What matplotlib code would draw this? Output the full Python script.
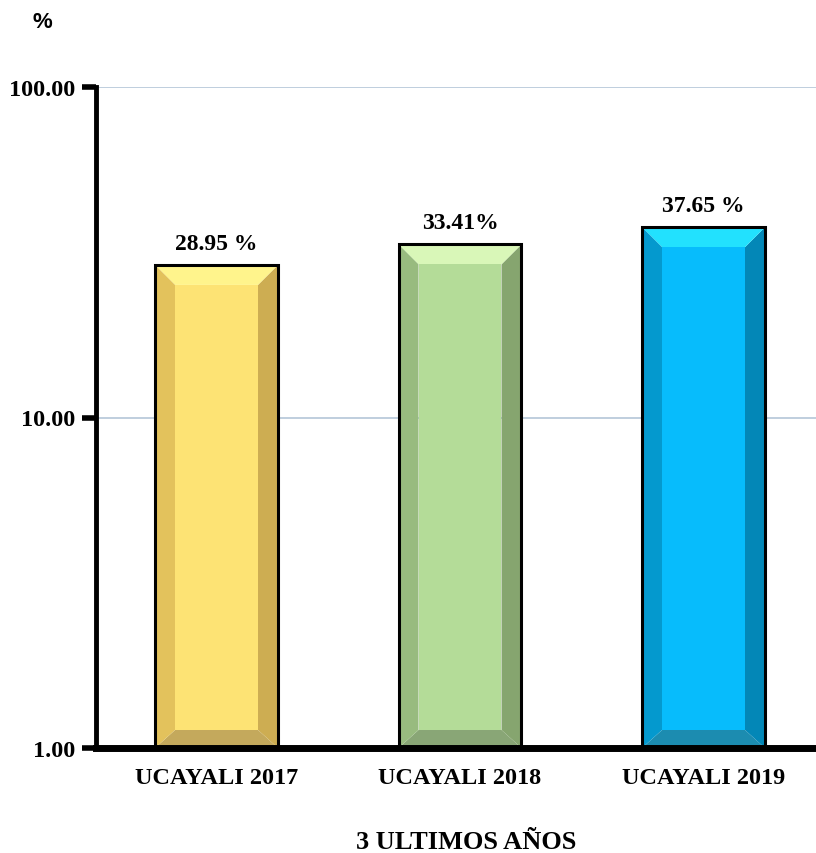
import matplotlib
matplotlib.use("Agg")
import matplotlib.pyplot as plt
from matplotlib.patches import Polygon
import numpy as np

categories = ["UCAYALI 2017", "UCAYALI 2018", "UCAYALI 2019"]
values = [28.95, 33.41, 37.65]
value_labels = ["28.95 %", "33.41%", "37.65 %"]
y_ticks = [1, 10, 100]
y_tick_labels = ["1.00", "10.00", "100.00"]
x_title = "3 ULTIMOS AÑOS"
y_unit = "%"

# face colours per bar: centre, top, left, right, bottom bevel
palettes = [
    dict(centre="#FDE374", top="#FFF48C", left="#E3C25C", right="#CDAD52", bottom="#C4A95C"),
    dict(centre="#B4DC98", top="#D9F7B8", left="#98BB7F", right="#86A56F", bottom="#89A676"),
    dict(centre="#07BCFC", top="#22E1FE", left="#0499CE", right="#0387B7", bottom="#1C8CB0"),
]

W, H, DPI = 816, 854, 100
fig = plt.figure(figsize=(W / DPI, H / DPI), dpi=DPI)
ax = fig.add_axes([96 / W, 105 / H, 1 - 96 / W, (749 - 88) / H])

serif = "Liberation Serif"
ax.set_yscale("log")
ax.set_ylim(1, 100)
ax.set_xlim(-0.495, 2.462)
ax.set_yticks(y_ticks)
ax.set_yticklabels(y_tick_labels, fontfamily=serif, fontweight="bold", fontsize=17.5)
ax.yaxis.set_minor_locator(matplotlib.ticker.NullLocator())
ax.set_xticks(range(len(categories)))
ax.set_xticklabels(categories, fontfamily=serif, fontweight="bold", fontsize=17.5)
ax.tick_params(axis="x", length=0, pad=14)
ax.tick_params(axis="y", length=10, width=4, pad=5, direction="out")
for t in ax.yaxis.get_ticklines():
    t.set_solid_capstyle("round")

for s in ("top", "right"):
    ax.spines[s].set_visible(False)
ax.spines["left"].set_linewidth(3.5)
ax.spines["bottom"].set_linewidth(5)
ax.spines["left"].set_zorder(6)
ax.spines["bottom"].set_zorder(6)

ax.grid(axis="y", which="major", color="#B4C6D8", linewidth=1.2)
ax.set_axisbelow(True)

bar_w = 0.505
bevel_px = 20
bottom_px = 18
to_disp = ax.transData
to_data = ax.transData.inverted()

for i, (v, pal) in enumerate(zip(values, palettes)):
    x0, x1 = i - bar_w / 2, i + bar_w / 2
    (X0, Y0), (X1, Y1) = to_disp.transform([(x0, 1), (x1, v)])
    outer = np.array([(X0, Y0), (X1, Y0), (X1, Y1), (X0, Y1)])
    inner = np.array([
        (X0 + bevel_px, Y0 + bottom_px),
        (X1 - bevel_px, Y0 + bottom_px),
        (X1 - bevel_px, Y1 - bevel_px),
        (X0 + bevel_px, Y1 - bevel_px),
    ])
    od = to_data.transform(outer)
    idd = to_data.transform(inner)
    faces = [
        ([od[0], od[1], idd[1], idd[0]], pal["bottom"]),
        ([od[1], od[2], idd[2], idd[1]], pal["right"]),
        ([od[2], od[3], idd[3], idd[2]], pal["top"]),
        ([od[3], od[0], idd[0], idd[3]], pal["left"]),
        (list(idd), pal["centre"]),
    ]
    for pts, col in faces:
        ax.add_patch(Polygon(pts, closed=True, facecolor=col, edgecolor="none", zorder=3))
    ax.add_patch(Polygon(od, closed=True, facecolor="none", edgecolor="black",
                         linewidth=2.2, zorder=4))
    ax.annotate(value_labels[i], (i, v), xytext=(0, 8), textcoords="offset points",
                ha="center", va="bottom", fontfamily=serif, fontweight="bold", fontsize=17)

fig.text(466 / W, 1 - 843 / H, x_title, ha="center", va="center",
         fontfamily=serif, fontweight="bold", fontsize=19)
fig.text(42 / W, 1 - 22 / H, y_unit, ha="center", va="center",
         fontfamily="Liberation Sans", fontweight="bold", fontsize=16)

fig.savefig("out.png", dpi=DPI)
